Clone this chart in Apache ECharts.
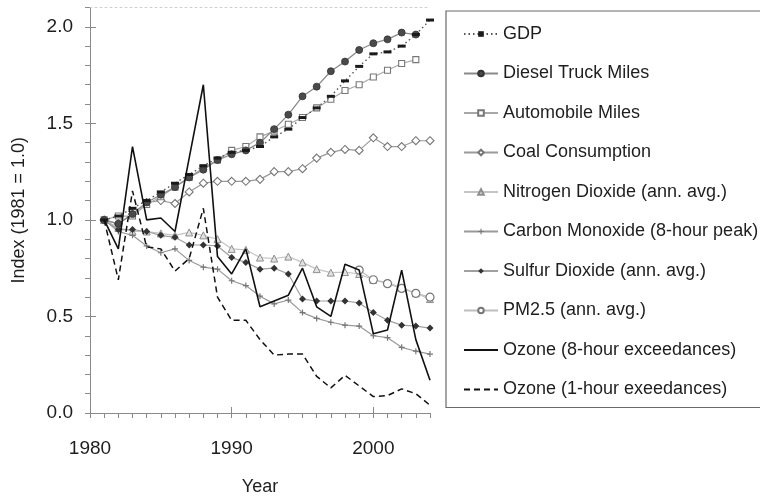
<!DOCTYPE html>
<html><head><meta charset="utf-8">
<script src="https://cdn.jsdelivr.net/npm/echarts@6/dist/echarts.min.js"></script>
<style>html,body{margin:0;padding:0;background:#fff}#c{width:760px;height:501px}</style>
</head><body><div id="c"></div>
<script>
const years = [1981,1982,1983,1984,1985,1986,1987,1988,1989,1990,1991,1992,1993,1994,1995,1996,1997,1998,1999,2000,2001,2002,2003,2004];
const gdp    = [1.00,1.02,1.06,1.10,1.145,1.19,1.235,1.28,1.32,1.35,1.36,1.38,1.43,1.47,1.53,1.58,1.64,1.72,1.795,1.86,1.87,1.90,1.96,2.035];
const diesel = [1.00,0.98,1.03,1.09,1.13,1.17,1.22,1.26,1.31,1.34,1.36,1.40,1.47,1.545,1.64,1.69,1.77,1.82,1.88,1.915,1.935,1.97,1.96];
const auto   = [1.00,1.02,1.02,1.08,1.12,1.17,1.22,1.27,1.31,1.36,1.38,1.43,1.46,1.495,1.53,1.58,1.625,1.67,1.70,1.74,1.775,1.81,1.83];
const coal   = [1.00,0.98,1.03,1.09,1.10,1.085,1.145,1.19,1.20,1.20,1.20,1.21,1.25,1.25,1.265,1.32,1.35,1.365,1.36,1.425,1.38,1.38,1.41,1.41];
const no2    = [1.00,0.96,0.94,0.94,0.93,0.92,0.935,0.92,0.90,0.85,0.845,0.805,0.80,0.81,0.78,0.745,0.727,0.73,0.72,0.69,0.675,0.65,0.62,0.59];
const co     = [1.00,0.94,0.92,0.865,0.83,0.85,0.79,0.755,0.745,0.685,0.66,0.605,0.565,0.585,0.52,0.49,0.47,0.455,0.45,0.40,0.39,0.34,0.32,0.305];
const so2    = [1.00,0.95,0.95,0.94,0.92,0.91,0.87,0.87,0.865,0.805,0.78,0.745,0.75,0.72,0.59,0.58,0.58,0.58,0.57,0.52,0.48,0.455,0.45,0.44];
const pmYears = [1999,2000,2001,2002,2003,2004];
const pm25   = [0.74,0.69,0.67,0.645,0.62,0.60];
const ozone8 = [1.00,0.85,1.38,1.00,1.01,0.94,1.32,1.70,0.81,0.72,0.85,0.55,0.58,0.61,0.75,0.55,0.50,0.77,0.74,0.41,0.43,0.74,0.38,0.17];
const ozone1 = [1.00,0.69,1.15,0.86,0.85,0.735,0.80,1.06,0.60,0.48,0.48,0.38,0.30,0.305,0.305,0.19,0.13,0.195,0.14,0.085,0.09,0.125,0.10,0.04];
const xMajor = [1980,1990,2000];
const yMajor = [0,0.5,1.0,1.5,2.0];
const names = ['GDP','Diesel Truck Miles','Automobile Miles','Coal Consumption','Nitrogen Dioxide (ann. avg.)','Carbon Monoxide (8-hour peak)','Sulfur Dioxide (ann. avg.)','PM2.5 (ann. avg.)','Ozone (8-hour exceedances)','Ozone (1-hour exeedances)'];
const noSymbolNames = ['Ozone (8-hour exceedances)','Ozone (1-hour exeedances)'];

function pairs(xs, ys){ return ys.map((v,i)=>[xs[i], v]); }
const FONT = "'Liberation Sans', Arial, sans-serif";
const TXT = '#1e1e1e';
const AX = '#8a8a8a';

const chart = echarts.init(document.getElementById('c'), null, {renderer:'canvas'});
const base = {type:'line', animation:false, silent:true};
chart.setOption({
  animation:false,
  backgroundColor:'#fff',
  textStyle:{fontFamily:FONT},
  grid:{left:90, right:330, top:7.5, bottom:87, containLabel:false},
  legend:{
    data:names.map(n => noSymbolNames.includes(n)
      ? {name:n, itemStyle:{opacity:0, color:'rgba(0,0,0,0)', borderWidth:0}}
      : {name:n}),
    orient:'vertical', left:446, top:11,
    padding:[13,6,8,17], itemGap:19.5, itemWidth:34, itemHeight:7,
    borderColor:'#6a6a6a', borderWidth:1.2, backgroundColor:'#fff',
    textStyle:{fontSize:18, color:TXT, fontFamily:FONT, lineHeight:20},
    selectedMode:false
  },
  xAxis:[
    {type:'value', min:1980, max:2004, interval:1, position:'bottom',
     axisLine:{show:true, onZero:false, lineStyle:{color:AX, width:1}},
     axisTick:{show:true, length:5, lineStyle:{color:AX}},
     axisLabel:{show:true, customValues:xMajor, fontSize:19, color:TXT, margin:26, fontFamily:FONT,
       formatter:v=> (v%10===0 ? String(v) : '')},
     splitLine:{show:false},
     name:'Year', nameLocation:'middle', nameGap:65, nameTextStyle:{fontSize:18, color:TXT, fontFamily:FONT}},
    {type:'value', min:1980, max:2004, interval:10, position:'bottom',
     axisLine:{show:false, onZero:false}, axisTick:{show:true, inside:true, length:6, customValues:xMajor, lineStyle:{color:AX}},
     axisLabel:{show:false}, splitLine:{show:false}},
    {type:'value', min:1980, max:2004.7, position:'top',
     axisLine:{show:true, onZero:false, lineStyle:{color:'#cfcfcf', type:[2,3], width:1}},
     axisTick:{show:false}, axisLabel:{show:false}, splitLine:{show:false}}
  ],
  yAxis:[
    {type:'value', min:0, max:2.1, interval:0.1, position:'left',
     axisLine:{show:true, onZero:false, lineStyle:{color:AX, width:1}},
     axisTick:{show:true, length:5, lineStyle:{color:AX}},
     axisLabel:{show:true, customValues:yMajor, fontSize:19, color:TXT, margin:17, fontFamily:FONT,
       formatter:v=> { const r=Math.round(v*10); return (r%5===0 && r<=20) ? (r/10).toFixed(1) : ''; }},
     splitLine:{show:false},
     name:'Index (1981 = 1.0)', nameLocation:'middle', nameGap:62, nameTextStyle:{fontSize:18, color:TXT, fontFamily:FONT}},
    {type:'value', min:0, max:2.1, interval:0.5, position:'left',
     axisLine:{show:false, onZero:false}, axisTick:{show:true, inside:true, length:6, customValues:yMajor, lineStyle:{color:AX}},
     axisLabel:{show:false}, splitLine:{show:false}}
  ],
  series:[
    Object.assign({}, base, {name:'Nitrogen Dioxide (ann. avg.)', data:pairs(years,no2), z:2,
      symbol:'triangle', symbolSize:7, showAllSymbol:true,
      lineStyle:{color:'#c4c4c4', width:1.2}, itemStyle:{color:'#e2e2e2', borderColor:'#8e8e8e', borderWidth:1}}),
    Object.assign({}, base, {name:'PM2.5 (ann. avg.)', data:pairs(pmYears,pm25), z:2,
      symbol:'circle', symbolSize:8, showAllSymbol:true,
      lineStyle:{color:'#bdbdbd', width:1.2}, itemStyle:{color:'#fff', borderColor:'#777', borderWidth:1.2}}),
    Object.assign({}, base, {name:'Carbon Monoxide (8-hour peak)', data:pairs(years,co), z:2,
      symbol:'path://M4,0h2v10h-2z M0,4h10v2h-10z', symbolSize:6, showAllSymbol:true,
      lineStyle:{color:'#9a9a9a', width:1.2}, itemStyle:{color:'#777'}}),
    Object.assign({}, base, {name:'Sulfur Dioxide (ann. avg.)', data:pairs(years,so2), z:2,
      symbol:'diamond', symbolSize:7, showAllSymbol:true,
      lineStyle:{color:'#a0a0a0', width:1.2}, itemStyle:{color:'#333'}}),
    Object.assign({}, base, {name:'Coal Consumption', data:pairs(years,coal), z:2,
      symbol:'diamond', symbolSize:8, showAllSymbol:true,
      lineStyle:{color:'#9a9a9a', width:1.2}, itemStyle:{color:'#fff', borderColor:'#777', borderWidth:1.1}}),
    Object.assign({}, base, {name:'Automobile Miles', data:pairs(years,auto), z:2,
      symbol:'rect', symbolSize:6, showAllSymbol:true,
      lineStyle:{color:'#a8a8a8', width:1.2}, itemStyle:{color:'#fff', borderColor:'#777', borderWidth:1.1}}),
    Object.assign({}, base, {name:'Diesel Truck Miles', data:pairs(years,diesel), z:3,
      symbol:'circle', symbolSize:7, showAllSymbol:true,
      lineStyle:{color:'#8a8a8a', width:1.3}, itemStyle:{color:'#4a4a4a', borderColor:'#333', borderWidth:0.8}}),
    Object.assign({}, base, {name:'GDP', data:pairs(years,gdp), z:4,
      symbol:'rect', symbolSize:[8,3], showAllSymbol:true,
      lineStyle:{color:'#555', width:1.4, type:[1.5,3]}, itemStyle:{color:'#1a1a1a'}}),
    Object.assign({}, base, {name:'Ozone (8-hour exceedances)', data:pairs(years,ozone8), z:5,
      symbol:'none', lineStyle:{color:'#111', width:1.6}}),
    Object.assign({}, base, {name:'Ozone (1-hour exeedances)', data:pairs(years,ozone1), z:5,
      symbol:'none', lineStyle:{color:'#111', width:1.5, type:[6,4]}})
  ]
});
</script></body></html>
